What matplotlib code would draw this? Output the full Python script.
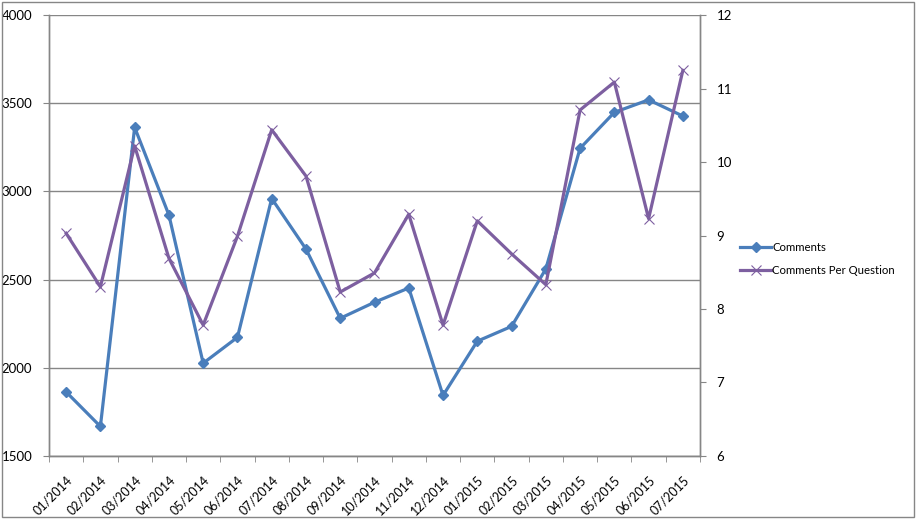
import matplotlib.pyplot as plt
from matplotlib.patches import Rectangle

# monthly values
months = ["01/2014", "02/2014", "03/2014", "04/2014", "05/2014", "06/2014",
          "07/2014", "08/2014", "09/2014", "10/2014", "11/2014", "12/2014",
          "01/2015", "02/2015", "03/2015", "04/2015", "05/2015", "06/2015",
          "07/2015"]
comments = [1862, 1666, 3364, 2866, 2025, 2172, 2960, 2673, 2280, 2371,
            2452, 1842, 2150, 2234, 2560, 3245, 3449, 3520, 3428]
comments_per_question = [9.03, 8.30, 10.22, 8.69, 7.78, 8.99, 10.44, 9.81,
                         8.23, 8.49, 9.29, 7.78, 9.20, 8.75, 8.33, 10.71,
                         11.09, 9.23, 11.25]

blue = "#4A7EBB"
purple = "#7D5FA0"
grid_gray = "#868686"

plt.rcParams["font.family"] = ["Lato", "DejaVu Sans"]
plt.rcParams["font.size"] = 9

fig = plt.figure(figsize=(9.16, 5.19), dpi=100)
ax = fig.add_axes([49 / 916, 1 - 455.7 / 519, 651 / 916, 440.4 / 519])
ax2 = ax.twinx()

x = list(range(len(months)))

# left axis: comments
l1, = ax.plot(x, comments, color=blue, lw=2.3, marker="D", markersize=5,
              markeredgecolor=blue, label="Comments", zorder=3)
# right axis: comments per question
l2, = ax2.plot(x, comments_per_question, color=purple, lw=2.3, marker="x",
               markersize=7, markeredgewidth=0.8, markeredgecolor=purple,
               label="Comments Per Question", zorder=3)

ax.set_ylim(1500, 4000)
ax.set_yticks(range(1500, 4001, 500))
ax2.set_ylim(6, 12)
ax2.set_yticks(range(6, 13))
ax.set_xlim(-0.5, len(months) - 0.5)

# category labels at centres, tick marks at boundaries
ax.set_xticks(x)
ax.set_xticklabels(months, rotation=45, ha="right", va="top",
                   rotation_mode="anchor", fontsize=9)
ax.tick_params(axis="x", which="major", length=0, pad=13)
ax.set_xticks([i - 0.5 for i in range(len(months) + 1)], minor=True)
ax.tick_params(axis="x", which="minor", length=4, color=grid_gray)

ax.yaxis.grid(True, color=grid_gray, lw=1)
ax.set_axisbelow(True)
ax.tick_params(axis="y", length=4, color=grid_gray, pad=8, labelsize=9.5)
ax2.tick_params(axis="y", length=4, color=grid_gray, pad=8, labelsize=9.5)

for a in (ax, ax2):
    a.spines["top"].set_visible(False)
    for s in ("left", "right", "bottom"):
        a.spines[s].set_color(grid_gray)
        a.spines[s].set_linewidth(1)

fig.legend(handles=[l1, l2], loc="center left",
           bbox_to_anchor=(730 / 916, 1 - 259 / 519), frameon=False,
           handlelength=2.7, handletextpad=0.1, labelspacing=1.1,
           fontsize=8.2)

# outer chart border
fig.patches.append(Rectangle((0.002, 0.003), 0.996, 0.994,
                             transform=fig.transFigure, fill=False,
                             edgecolor=grid_gray, lw=1))

fig.savefig("out.png", dpi=100)
